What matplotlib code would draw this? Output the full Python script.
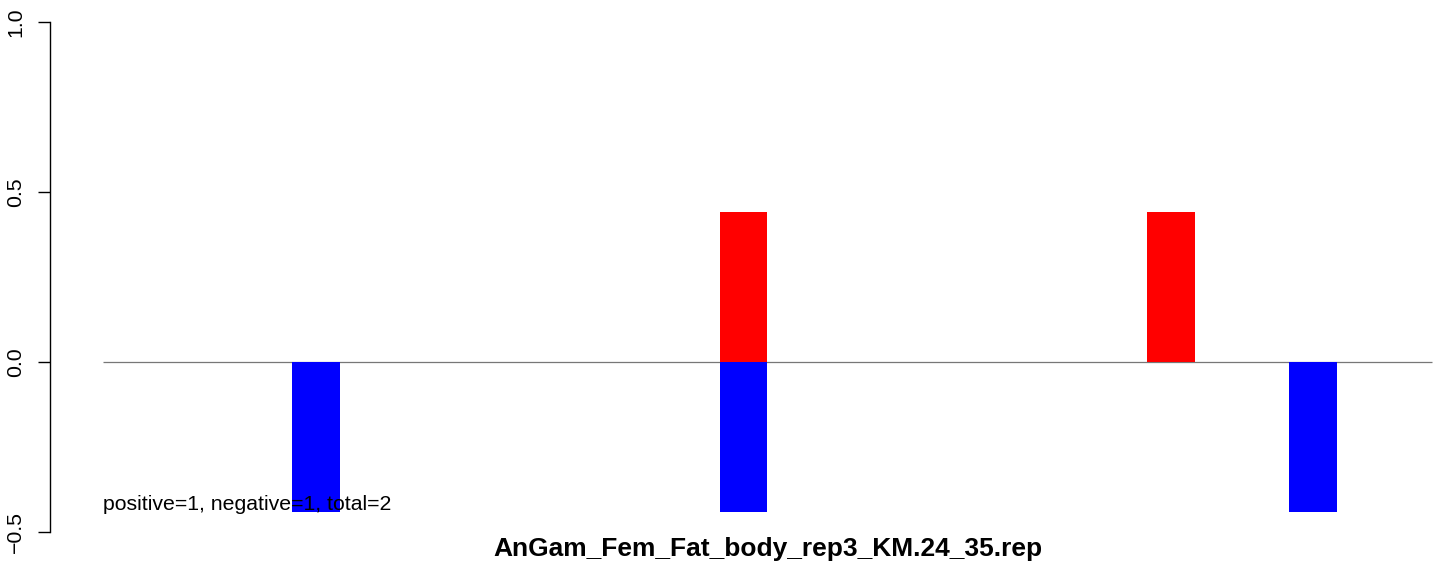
import matplotlib

matplotlib.use("Agg")
import matplotlib.pyplot as plt

plt.rcParams.update({"font.family": "sans-serif", "font.sans-serif": ["Liberation Sans", "DejaVu Sans"]})

TITLE = "AnGam_Fem_Fat_body_rep3_KM.24_35.rep"
NOTE = "positive=1, negative=1, total=2"

# bin positions and signed bar heights
POS_X = [4.5, 7.5]
POS_Y = [0.44, 0.44]
NEG_X = [1.5, 4.5, 8.5]
NEG_Y = [-0.44, -0.44, -0.44]
LINE_START, LINE_END = 0.0, 9.34
YTICKS = [-0.5, 0.0, 0.5, 1.0]
YTICK_LABELS = ["\u22120.5", "0.0", "0.5", "1.0"]

fig = plt.figure(figsize=(14.44, 5.65), dpi=100)
ax = fig.add_axes([50 / 1444, 33 / 565, (1433 - 50) / 1444, 510 / 565])

ax.hlines(0, LINE_START, LINE_END, color="#777777", linewidth=0.9, zorder=1)
ax.bar(POS_X, POS_Y, width=0.337, color="#ff0000", zorder=2)
ax.bar(NEG_X, NEG_Y, width=0.337, color="#0000ff", zorder=2)

ax.text(LINE_START, -0.42, NOTE, fontsize=15.3, va="center", ha="left", zorder=3)

ax.set_xlim(-0.372, 9.344)
ax.set_ylim(-0.5, 1.0)
ax.set_yticks(YTICKS)
ax.set_yticklabels(YTICK_LABELS, rotation=90, va="center", fontsize=15.3)
ax.tick_params(axis="y", length=9, width=1.0, pad=9)
ax.set_xticks([])
for side in ("top", "right", "bottom"):
    ax.spines[side].set_visible(False)
ax.spines["left"].set_linewidth(1.0)

fig.text(767.5 / 1444, 16 / 565, TITLE, fontsize=19, fontweight="bold", ha="center", va="center")

fig.savefig("out.png", dpi=100)
